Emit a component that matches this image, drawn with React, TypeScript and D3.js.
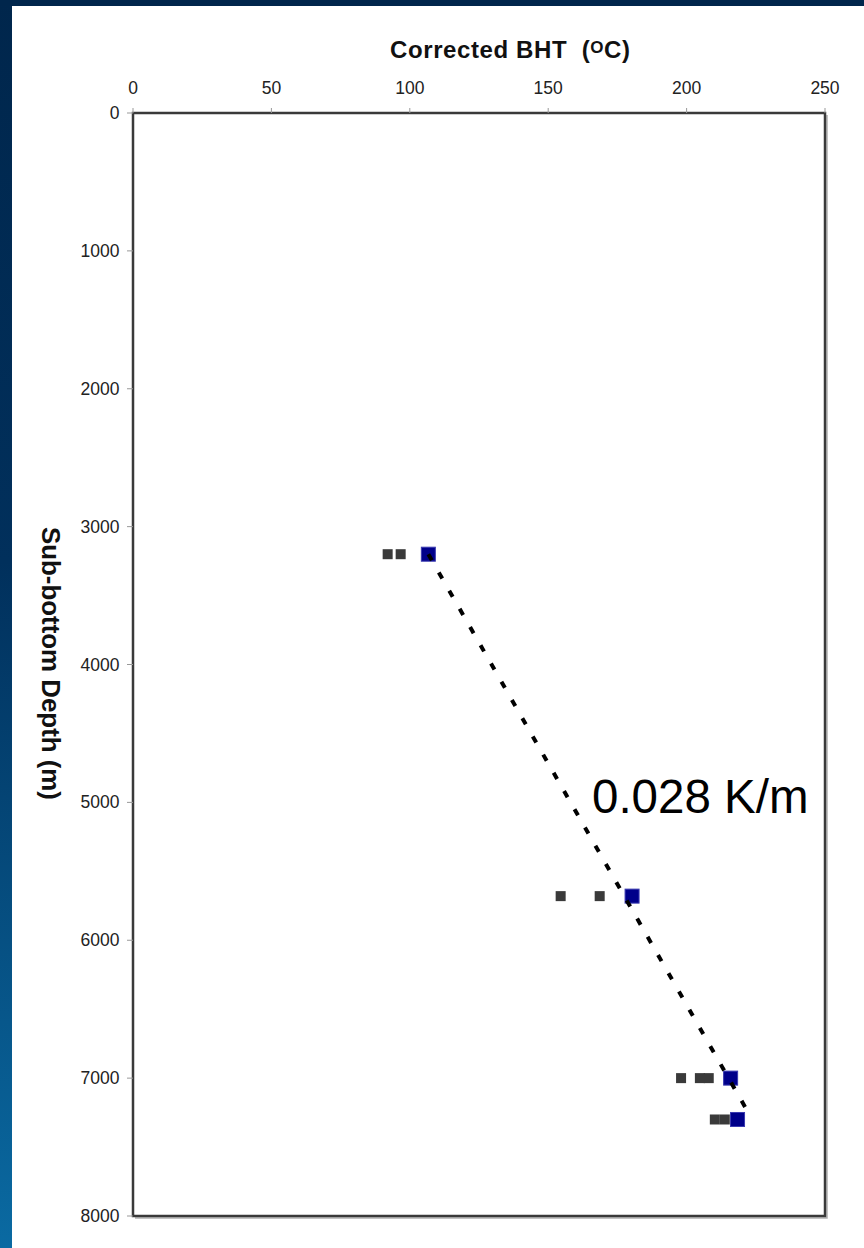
import React from "react";
import * as d3 from "d3";

// Data
const xTicks = [0, 50, 100, 150, 200, 250];
const yTicks = [0, 1000, 2000, 3000, 4000, 5000, 6000, 7000, 8000];

// measured BHT (grey) : [temperature °C, depth m]
const greyTemps = [92, 96.7, 154.5, 168.6, 198, 204.8, 208, 210.2, 213.8];
const greyDepths = [3200, 3200, 5680, 5680, 7000, 7000, 7000, 7300, 7300];

// corrected/selected BHT (blue)
const blueTemps = [106.7, 180.3, 215.9, 218.4];
const blueDepths = [3200, 5680, 7000, 7300];

// trend line end points
const trendTemps = [106.7, 222.3];
const trendDepths = [3200, 7250];

const gradientLabel = "0.028 K/m";

const W = 864;
const H = 1248;
const plot = { left: 133, right: 825, top: 113, bottom: 1216 };

export default function App() {
  const x = d3.scaleLinear().domain([0, 250]).range([plot.left, plot.right]);
  const y = d3.scaleLinear().domain([0, 8000]).range([plot.top, plot.bottom]);
  const font = "'Liberation Sans', Arial, Helvetica, sans-serif";
  const line = d3
    .line<number>()
    .x((_, i) => x(trendTemps[i]))
    .y((_, i) => y(trendDepths[i]));
  const gs = 10;
  const bs = 14;
  return (
    <div style={{ position: "absolute", left: 0, top: 0 }}>
      <svg width={W} height={H} style={{ display: "block" }}>
        <defs>
          <linearGradient id="bg" x1="0" y1="0" x2="0" y2="1">
            <stop offset="0" stopColor="#00264c" />
            <stop offset="0.45" stopColor="#01305c" />
            <stop offset="1" stopColor="#0a6aa2" />
          </linearGradient>
        </defs>
        <rect x={0} y={0} width={W} height={H} fill="url(#bg)" />
        <rect x={0} y={0} width={W} height={6} fill="#00264c" />
        <rect x={12} y={6} width={W - 12} height={H - 6} fill="#ffffff" />

        {/* frame shadow */}
        <path
          d={`M${plot.right + 2},${plot.top + 2} V${plot.bottom + 2} H${plot.left + 2}`}
          fill="none"
          stroke="#b0b0b0"
          strokeWidth={1.5}
        />
        <rect
          x={plot.left}
          y={plot.top}
          width={plot.right - plot.left}
          height={plot.bottom - plot.top}
          fill="none"
          stroke="#3a3a3a"
          strokeWidth={2.5}
        />

        {/* x ticks */}
        {xTicks.map((t) => (
          <g key={"x" + t}>
            <line x1={x(t)} x2={x(t)} y1={plot.top - 5} y2={plot.top} stroke="#999" strokeWidth={1} />
            <text
              x={x(t)}
              y={94}
              textAnchor="middle"
              fontFamily={font}
              fontSize={17.5}
              fill="#222"
            >
              {t}
            </text>
          </g>
        ))}
        {/* y ticks */}
        {yTicks.map((t) => (
          <g key={"y" + t}>
            <line x1={plot.left - 6} x2={plot.left} y1={y(t)} y2={y(t)} stroke="#999" strokeWidth={1} />
            <text
              x={119.5}
              y={y(t) + 6}
              textAnchor="end"
              fontFamily={font}
              fontSize={17.5}
              fill="#222"
            >
              {t}
            </text>
          </g>
        ))}

        {/* titles */}
        <text
          x={390}
          y={58}
          fontFamily={font}
          fontWeight="bold"
          fontSize={24}
          fill="#111"
          textLength={240}
          lengthAdjust="spacing"
        >
          {"Corrected BHT\u00a0\u00a0("}
          <tspan fontSize={17} dy={-5}>O</tspan>
          <tspan dy={5}>C)</tspan>
        </text>
        <text
          transform={`translate(42,527) rotate(90)`}
          fontFamily={font}
          fontWeight="bold"
          fontSize={25}
          fill="#111"
          textLength={273}
          lengthAdjust="spacingAndGlyphs"
        >
          Sub-bottom Depth (m)
        </text>

        {/* grey points */}
        {greyTemps.map((t, i) => (
          <rect
            key={"g" + i}
            x={x(t) - gs / 2}
            y={y(greyDepths[i]) - gs / 2}
            width={gs}
            height={gs}
            fill="#3a3a3a"
          />
        ))}

        {/* blue points */}
        {blueTemps.map((t, i) => (
          <rect
            key={"b" + i}
            x={x(t) - bs / 2}
            y={y(blueDepths[i]) - bs / 2}
            width={bs}
            height={bs}
            fill="#00008a"
            stroke="#3a3ab0"
            strokeWidth={1}
          />
        ))}

        {/* trend line */}
        <path
          d={line(trendTemps) || ""}
          fill="none"
          stroke="#000"
          strokeWidth={4}
          strokeDasharray="7 14"
        />

        <text x={592} y={813} fontFamily={font} fontSize={47.5} fill="#000">
          {gradientLabel}
        </text>
      </svg>
    </div>
  );
}
